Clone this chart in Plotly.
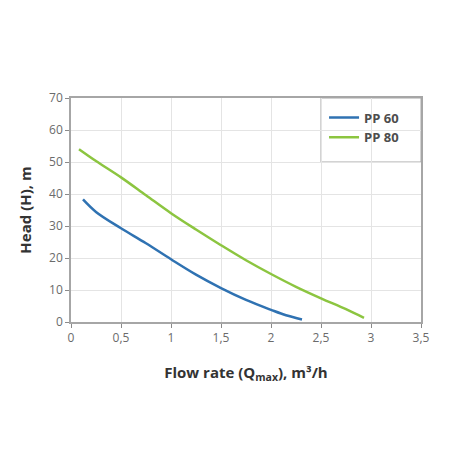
import plotly.graph_objects as go


pp60_q      = [ 0.12, 0.25, 0.5, 0.75, 1.0, 1.25, 1.5, 1.75, 2.0, 2.15, 2.31 ]
pp60_h      = [ 38.3, 34.4, 29.3, 24.6, 19.6, 14.8, 10.6, 6.9, 3.8, 2.1, 0.8 ]

pp80_q      = [ 0.08, 0.25, 0.5, 0.75, 1.0, 1.25, 1.5, 1.75, 2.0, 2.25, 2.5, 2.75, 2.93 ]
pp80_h      = [ 54.0, 50.3, 45.2, 39.6, 34.0, 28.9, 24.0, 19.3, 15.0, 11.0, 7.4, 4.0, 1.3 ]

x_ticks     = [ 0, 0.5, 1, 1.5, 2, 2.5, 3, 3.5 ]
y_ticks     = [ 0, 10, 20, 30, 40, 50, 60, 70 ]


if __name__ == "__main__":

    fig = go.Figure()

    fig.add_trace(
        go.Scatter(
            {
                "x":    pp60_q,
                "y":    pp60_h,
                "name": "PP 60",
                "mode": "lines",
                "line": { "color": "#2f72b2", "width": 2.5, "shape": "spline" }
            }
        )
    )

    fig.add_trace(
        go.Scatter(
            {
                "x":    pp80_q,
                "y":    pp80_h,
                "name": "PP 80",
                "mode": "lines",
                "line": { "color": "#8cc540", "width": 2.5, "shape": "spline" }
            }
        )
    )

    # legend frame
    fig.add_shape(
        type = "rect", xref = "x", yref = "y",
        x0 = 2.5, x1 = 3.5, y0 = 50, y1 = 70,
        line = { "color": "#a6a6a6", "width": 1 },
        fillcolor = "white", layer = "below"
    )

    axis_common = {
        "showline":     True,
        "linecolor":    "#a6a6a6",
        "linewidth":    1.5,
        "mirror":       True,
        "showgrid":     True,
        "gridcolor":    "#e4e4e4",
        "gridwidth":    1,
        "zeroline":     False,
        "automargin":   True,
        "ticks":        "outside",
        "ticklen":      4,
        "tickcolor":    "#8a8a8a",
        "tickfont":     { "family": "Open Sans", "size": 12, "color": "#6b6b6b" }
    }

    # page body has an 8px margin, so the figure is drawn 8px in from the corner
    fig.update_layout(
        width           = 448,
        height          = 448,
        paper_bgcolor   = "white",
        plot_bgcolor    = "white",
        separators      = ", ",
        margin          = { "l": 63, "r": 35, "t": 90, "b": 134 },
        showlegend      = True,
        legend          = {
            "x":            0.723,
            "y":            0.98,
            "xanchor":      "left",
            "yanchor":      "top",
            "bgcolor":      "rgba(0,0,0,0)",
            "font":         { "family": "Open Sans", "size": 13, "color": "#4d4d4d", "weight": "bold" },
            "tracegroupgap": 0
        },
        xaxis           = dict(
            axis_common,
            range       = [ 0, 3.5 ],
            tickvals    = x_ticks,
            title       = {
                "text":     "Flow rate (Q<sub>max</sub>), m³/h",
                "font":     { "family": "Open Sans", "size": 15, "color": "#333333", "weight": "bold" },
                "standoff": 22
            }
        ),
        yaxis           = dict(
            axis_common,
            range       = [ 0, 70 ],
            tickvals    = y_ticks,
            title       = {
                "text":     "Head (H), m",
                "font":     { "family": "Open Sans", "size": 15, "color": "#333333", "weight": "bold" },
                "standoff": 14
            }
        )
    )

    fig.write_html("out.html")
